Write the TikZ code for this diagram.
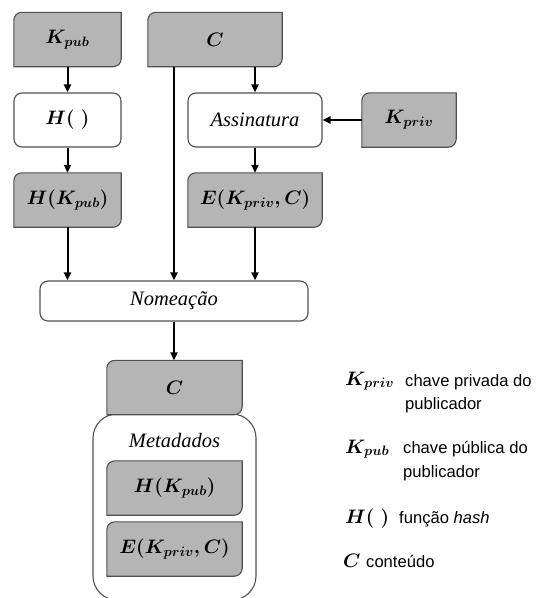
\documentclass[tikz,border=0pt]{standalone}
\usepackage{fix-cm}
\usepackage{fontspec}
\newfontfamily\legendfont{Liberation Sans}
\newfontfamily\labelfont{Liberation Serif}
\usetikzlibrary{arrows.meta,backgrounds}

\definecolor{boxgray}{RGB}{181,181,181}
\definecolor{edgegray}{RGB}{80,80,80}

% fonts for the box labels
\newcommand\mathlabel{\fontsize{19.5}{22}\selectfont\boldmath}
\newcommand\itlabel{\labelfont\fontsize{20.5}{22}\selectfont\itshape}

\tikzset{
  gboxnode/.style={minimum height=54pt, inner sep=0pt, font=\mathlabel},
  gboxline/.style={draw=edgegray, fill=boxgray, line width=1.1pt},
  wbox/.style={draw=edgegray, fill=white, line width=1.1pt, rounded corners=8pt,
               minimum height=54pt, inner sep=0pt, font=\mathlabel},
  arr/.style={line width=2pt, -{Triangle[length=8pt,width=7pt]}},
  legsym/.style={inner sep=0pt, anchor=base west, font=\mathlabel},
  legtxt/.style={inner sep=0pt, anchor=base west,
                 font=\legendfont\fontsize{16.6}{20}\selectfont}
}

% grey box with rounded top-left and bottom-right corners
% #1 name, #2 x, #3 y, #4 width, #5 label
\newcommand\gbox[5]{%
  \node[gboxnode, minimum width=#4pt] (#1) at (#2,#3) {#5};
  \begin{scope}[on background layer]
    \draw[gboxline] (#1.south west)
      -- ([yshift=-8pt]#1.north west) arc[start angle=180,end angle=270,radius=8]
      -- (#1.north east)
      -- ([yshift=8pt]#1.south east) arc[start angle=0,end angle=90,radius=8]
      -- cycle;
  \end{scope}}

\begin{document}
\begin{tikzpicture}[x=1pt,y=-1pt]
\useasboundingbox (0,0) rectangle (542,598);

% upper part: key and content processing
\gbox{kpub}{67.5}{39.5}{107}{$K_{pub}$}
\gbox{ctop}{215}{39.5}{134}{$C$}
\node[wbox, minimum width=107pt] (hfun) at (67.5,120) {$H(\;)$};
\gbox{hkpub}{67.5}{200}{107}{$H(K_{pub})$}
\node[wbox, minimum width=134pt, font=\itlabel] (assin) at (255,120) {Assinatura};
\gbox{ekpriv}{255}{200}{134}{$E(K_{priv},C)$}
\gbox{kpriv}{409}{120}{94}{$K_{priv}$}
\node[wbox, minimum width=268pt, minimum height=40pt, font=\itlabel] (nome) at (174,301) {Nomeação};

% resulting content object with its metadata
\begin{scope}[on background layer]
  \node[draw=edgegray, fill=white, line width=1.1pt, rounded corners=24pt,
        minimum width=163pt, minimum height=186pt, inner sep=0pt] (meta) at (174.5,507) {};
\end{scope}
\gbox{cbot}{174.5}{387.5}{135}{$C$}
\node[inner sep=0pt, font=\itlabel] (metalbl) at (174.5,440) {Metadados};
\gbox{mhk}{174.5}{488}{135}{$H(K_{pub})$}
\gbox{mek}{174.5}{549}{135}{$E(K_{priv},C)$}

% connectors
\draw[arr] (kpub) -- (hfun);
\draw[arr] (hfun) -- (hkpub);
\draw[arr] (hkpub.south) -- (hkpub.south |- nome.north);
\draw[arr] (nome.north |- ctop.south) -- (nome.north);
\draw[arr] (assin.north |- ctop.south) -- (assin.north);
\draw[arr] (kpriv) -- (assin);
\draw[arr] (assin) -- (ekpriv);
\draw[arr] (ekpriv.south) -- (ekpriv.south |- nome.north);
\draw[arr] (nome.south) -- (nome.south |- cbot.north);

% legend
\node[legsym] (lkpriv) at (345,385) {$K_{priv}$};
\node[legtxt] (lkpriva) at (405,386) {chave privada do};
\node[legtxt] (lkprivb) at (405,409) {publicador};
\node[legsym] (lkpub) at (345,453) {$K_{pub}$};
\node[legtxt] (lkpuba) at (403,453) {chave pública do};
\node[legtxt] (lkpubb) at (403,477) {publicador};
\node[legsym] (lhash) at (345,523) {$H(\;)$};
\node[legtxt] (lhasht) at (399,523) {função \textit{hash}};
\node[legsym] (lcont) at (343,567) {$C$};
\node[legtxt] (lcontt) at (366,567) {conteúdo};
\end{tikzpicture}
\end{document}
